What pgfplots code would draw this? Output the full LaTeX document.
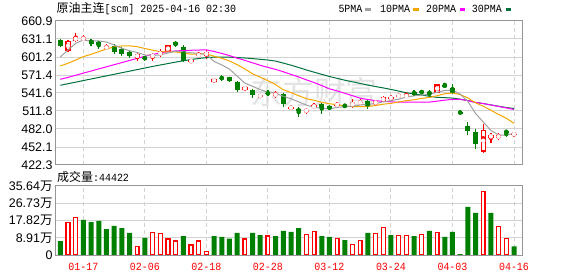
\documentclass[border=0pt]{standalone}
\usepackage{fontspec}
\setmainfont{Liberation Sans}
\newfontfamily\cjk{Noto Sans CJK SC}
\newfontfamily\mono[FakeStretch=0.91]{Liberation Mono}
\usepackage{pgfplots}
\usepackage{pgfplotstable}
\pgfplotsset{compat=1.18}

\definecolor{cred}{RGB}{255,0,0}
\definecolor{cgreen}{RGB}{0,128,0}
\definecolor{ma5c}{RGB}{160,160,160}
\definecolor{ma10c}{RGB}{245,166,0}
\definecolor{ma20c}{RGB}{255,0,255}
\definecolor{ma30c}{RGB}{0,112,60}
\definecolor{framec}{RGB}{150,150,150}
\definecolor{gridc}{RGB}{210,210,210}

\pgfplotstableread{
i o h l c
1 611.7 629.0 610.0 627.8
2 628.5 641.0 626.0 634.0
3 630.0 637.2 627.8 633.2
6 615.0 623.0 613.0 619.0
10 600.0 608.0 594.0 606.0
12 601.0 608.0 595.0 605.5
13 605.5 614.0 602.0 609.0
14 610.0 621.0 609.0 620.5
17 592.5 597.0 592.0 596.5
18 603.5 610.0 600.5 605.0
19 603.5 613.0 597.5 609.5
20 560.5 566.0 558.5 564.5
24 547.0 553.0 545.5 552.0
26 536.0 540.0 533.0 537.5
28 537.5 545.0 534.0 540.0
30 515.5 520.0 514.5 519.0
32 511.5 516.5 507.0 513.0
33 518.0 524.5 516.0 521.0
36 521.0 526.5 518.0 523.0
38 521.0 531.5 516.0 525.0
39 525.0 531.0 522.0 527.0
41 523.5 530.0 520.0 528.0
42 527.0 536.5 526.0 535.5
43 533.0 538.5 528.5 534.5
44 535.0 540.0 534.0 538.5
45 536.0 544.0 533.0 537.5
49 542.0 556.5 541.0 556.0
55 444.5 490.0 443.0 480.5
56 467.5 475.0 459.5 472.0
57 466.5 475.0 464.0 472.0
59 472.5 477.0 469.0 474.0
}\upc

\pgfplotstableread{
i o h l c
0 629.4 631.1 617.3 620.0
4 629.0 631.0 620.0 623.5
5 626.5 627.0 614.5 621.0
7 619.0 622.0 607.0 609.0
8 614.0 617.0 603.0 606.0
9 610.0 612.0 599.5 603.5
11 600.5 603.5 595.0 598.5
15 626.0 627.0 618.0 621.0
16 617.0 621.0 592.5 594.0
21 567.0 572.0 561.0 565.0
22 567.5 568.5 560.0 562.0
23 560.5 562.0 544.0 546.5
25 547.0 549.0 534.0 538.0
27 542.0 546.0 536.0 540.0
29 540.0 542.0 519.0 524.0
31 514.5 518.0 502.0 511.5
34 523.5 525.5 506.0 517.0
35 520.0 521.5 513.0 514.5
37 522.0 523.0 517.0 519.5
40 528.5 530.0 515.0 520.0
46 544.0 546.5 537.0 538.5
47 544.5 546.5 540.0 542.0
48 544.0 546.0 534.5 540.0
50 554.5 558.5 551.5 552.0
51 549.5 556.0 540.0 542.0
52 509.5 509.5 509.0 509.0
53 487.0 494.0 472.0 479.0
54 477.0 482.0 448.0 457.0
58 478.0 478.5 469.0 477.0
}\downc

\pgfplotstableread{
i m5 m10 m20 m30
0 601.3 586.4 564.3 554.4
1 612.9 590.8 567.5 557.0
2 623.9 596.3 571.0 559.6
3 629.5 601.9 574.5 562.2
4 627.7 605.7 578.0 564.8
5 627.9 610.1 581.5 567.4
6 626.1 614.6 585.0 570.0
7 621.1 617.9 588.5 572.6
8 615.7 619.5 592.0 575.2
9 611.7 619.7 595.5 577.8
10 608.7 618.3 599.0 580.4
11 604.6 615.4 602.5 583.0
12 603.9 612.5 605.5 585.6
13 604.5 610.1 608.0 588.0
14 607.9 609.8 610.0 590.4
15 610.9 609.8 611.3 592.8
16 610.0 607.3 612.0 595.0
17 608.2 606.1 612.4 597.0
18 607.4 606.0 612.8 598.8
19 605.2 606.6 613.1 600.2
20 593.9 602.4 610.4 601.0
21 588.1 599.1 607.2 601.2
22 581.2 594.7 603.6 601.0
23 569.5 588.5 599.3 600.4
24 558.0 581.6 595.7 599.6
25 552.7 573.3 591.6 598.6
26 547.2 567.7 587.5 597.4
27 542.8 562.0 584.0 596.2
28 541.5 555.5 580.7 594.5
29 535.9 547.0 576.8 591.1
30 532.1 542.4 572.4 587.7
31 526.9 537.1 568.1 583.8
32 521.5 532.2 563.4 579.8
33 517.7 529.6 559.0 576.1
34 516.3 526.1 553.9 572.5
35 515.4 523.8 548.5 569.0
36 517.7 522.3 545.0 565.8
37 519.0 520.3 541.1 562.8
38 519.8 518.8 537.1 560.1
39 521.8 519.1 533.0 557.5
40 522.9 519.2 530.8 554.7
41 523.9 520.8 528.9 552.3
42 527.1 523.1 527.6 550.0
43 529.0 524.4 527.0 547.5
44 531.3 526.6 526.3 544.8
45 534.8 528.9 526.3 542.0
46 536.9 530.4 526.4 540.1
47 538.2 532.7 526.5 538.3
48 539.3 534.2 526.5 536.1
49 542.8 537.1 528.1 534.4
50 545.7 540.3 529.7 533.9
51 546.4 541.7 531.2 533.2
52 539.8 539.0 531.0 531.4
53 527.6 533.5 528.9 529.2
54 507.8 525.3 525.9 526.0
55 493.5 519.6 524.2 524.1
56 479.5 513.0 521.7 521.9
57 472.1 506.0 519.3 519.6
58 471.7 499.7 516.9 517.5
59 475.1 491.5 514.3 515.9
}\matab

\pgfplotstableread{
i v
1 16.9
2 19.5
10 4.5
12 11.7
13 11.2
14 8.3
15 7.2
17 5.2
18 7.2
19 1.9
24 8.3
27 9.8
32 10.7
33 12.2
36 8.6
38 5.5
39 7.6
41 11.2
42 14.3
44 10.2
45 10.2
47 10.7
49 11.7
55 32.9
57 14.8
58 8.6
}\vred

\pgfplotstableread{
i v
0 7.2
3 18.1
4 17.0
5 17.6
6 13.4
7 15.0
8 13.9
9 11.4
11 8.8
16 9.8
20 9.8
21 9.3
22 8.4
23 11.4
25 11.4
26 10.3
28 9.8
29 12.4
30 11.9
31 13.9
34 9.8
35 9.3
37 7.7
40 11.4
43 10.3
46 9.8
48 12.4
50 9.3
51 11.9
52 0.5
53 24.8
54 21.7
56 21.7
59 4.44
}\vgreen

\pgfplotsset{kstyle/.style={
  scale only axis, width=466.6bp, xmin=-0.6, xmax=60.08,
  xtick={3,11,19,27,35,43,51,59},
  major tick length=0pt,
  xmajorgrids, ymajorgrids,
  x grid style={gridc, dash pattern=on 4bp off 3bp, line width=1bp},
  y grid style={gridc, line width=1bp},
  axis line style={framec, line width=1bp},
  yticklabel style={anchor=east, inner sep=0pt, xshift=-3bp, text=black,
    font=\fontsize{12.5}{12.5}\selectfont},
  clip=true},
  candle/.style n args={2}{forget plot, color=#1, draw=#1, only marks, mark=none,
    error bars/.cd, y dir=both, y explicit, error mark=none,
    error bar style={draw=#1, color=#1, line width=#2}}}

\begin{document}
\begin{tikzpicture}
\path[use as bounding box] (0,0) rectangle (578bp,276bp);
\node[text=black!11, font=\cjk\fontsize{32}{32}\selectfont, inner sep=0pt] at (314bp,184bp) {东方财富};

\begin{axis}[kstyle, at={(55.7bp,111bp)}, anchor=south west, height=144bp,
  ymin=422.3, ymax=660.9,
  ytick={422.3,452.1,482.0,511.8,541.6,571.4,601.2,631.1,660.9},
  yticklabels={422.3,452.1,482.0,511.8,541.6,571.4,601.2,631.1,660.9},
  xticklabels={}]
% wicks
\addplot[candle={cgreen}{1.2bp}]
  table[x=i, y expr={(\thisrow{h}+\thisrow{l})/2}, y error expr={(\thisrow{h}-\thisrow{l})/2}]{\downc};
\addplot[candle={cred}{1.3bp}]
  table[x=i, y expr={(\thisrow{h}+\thisrow{l})/2}, y error expr={(\thisrow{h}-\thisrow{l})/2}]{\upc};
% bodies
\addplot[candle={cgreen}{5bp}]
  table[x=i, y expr={(\thisrow{o}+\thisrow{c})/2}, y error expr={max(abs(\thisrow{o}-\thisrow{c})/2,0.9)}]{\downc};
\addplot[candle={cred}{5.4bp}]
  table[x=i, y expr={(\thisrow{o}+\thisrow{c})/2}, y error expr={max(abs(\thisrow{o}-\thisrow{c})/2,1.0)}]{\upc};
\addplot[candle={white}{3bp}]
  table[x=i, y expr={(\thisrow{o}+\thisrow{c})/2}, y error expr={max(abs(\thisrow{o}-\thisrow{c})/2-2.0,0)}]{\upc};
% moving averages
\addplot[ma30c, line width=1bp, mark=none] table[x=i, y=m30]{\matab};
\addplot[ma20c, line width=1bp, mark=none] table[x=i, y=m20]{\matab};
\addplot[ma10c, line width=1bp, mark=none] table[x=i, y=m10]{\matab};
\addplot[ma5c, line width=1bp, mark=none] table[x=i, y=m5]{\matab};
\end{axis}

\begin{axis}[kstyle, at={(55.7bp,21bp)}, anchor=south west, height=69bp,
  ymin=0, ymax=35.64,
  ytick={0,8.91,17.82,26.73,35.64},
  yticklabels={0,8.91{\cjk 万},17.82{\cjk 万},26.73{\cjk 万},35.64{\cjk 万}},
  xticklabels={01-17,02-06,02-18,02-28,03-12,03-24,04-03,04-16},
  xticklabel style={text=cred, anchor=north, inner sep=0pt, yshift=-7.5bp,
    font=\mono\fontsize{11}{11}\selectfont}]
\addplot[forget plot, ybar, bar width=5bp, bar shift=0pt, fill=cgreen, draw=none] table[x=i, y=v]{\vgreen};
\addplot[forget plot, ybar, bar width=3.8bp, bar shift=0pt, fill=white, draw=cred, line width=1.3bp] table[x=i, y=v]{\vred};
\end{axis}

% titles
\node[anchor=west, inner sep=0pt] at (56.5bp,267bp) {\fontsize{12}{12}\selectfont\cjk 原油主连\mono\fontsize{11}{11}\selectfont[scm] 2025-04-16 02:30};
\node[anchor=west, inner sep=0pt] at (57bp,99bp) {\fontsize{12}{12}\selectfont\cjk 成交量\mono\fontsize{11}{11}\selectfont:44422};
% legend
\begin{scope}[font=\mono\fontsize{11}{11}\selectfont]
\node[anchor=west, inner sep=0pt] at (338.3bp,267bp) {5PMA};
\draw[ma5c, line width=2.2bp] (365bp,266.5bp) -- (370.7bp,266.5bp);
\node[anchor=west, inner sep=0pt] at (380bp,267bp) {10PMA};
\draw[ma10c, line width=2.2bp] (413.3bp,266.5bp) -- (418.6bp,266.5bp);
\node[anchor=west, inner sep=0pt] at (426bp,267bp) {20PMA};
\draw[ma20c, line width=2.2bp] (460bp,266.5bp) -- (465.3bp,266.5bp);
\node[anchor=west, inner sep=0pt] at (471.7bp,267bp) {30PMA};
\draw[ma30c, line width=2.2bp] (505.7bp,266.5bp) -- (511bp,266.5bp);
\end{scope}
\end{tikzpicture}
\end{document}
